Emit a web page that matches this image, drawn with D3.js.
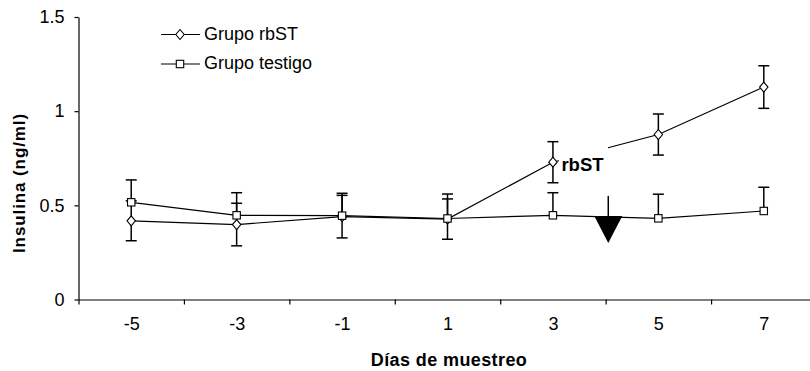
<!DOCTYPE html>
<html>
<head>
<meta charset="utf-8">
<script src="https://cdn.jsdelivr.net/npm/d3@7"></script>
<style>
  html, body { margin: 0; padding: 0; background: #fff; }
  svg { display: block; }
  text { font-family: "Liberation Sans", Arial, sans-serif; fill: #000; }
</style>
</head>
<body>
<svg id="chart" width="810" height="371"></svg>
<script>
// ---- data ----
const days = [-5, -3, -1, 1, 3, 5, 7];
const dayLabels = ["-5", "-3", "-1", "1", "3", "5", "7"];
const rbstMean = [0.418, 0.398, 0.44, 0.427, 0.729, 0.876, 1.128];
const rbstErr  = [0.106, 0.113, 0.113, 0.107, 0.109, 0.109, 0.113];
const testigoMean = [0.516, 0.447, 0.445, 0.430, 0.447, 0.431, 0.470];
const testigoErr  = [0.119, 0.120, 0.119, 0.130, 0.120, 0.128, 0.126];
const yTicks = [0, 0.5, 1, 1.5];
const yTickLabels = ["0", "0.5", "1", "1.5"];
const seriesNames = ["Grupo rbST", "Grupo testigo"];
const annotationText = "rbST";
const arrowDay = 4.05, arrowTop = 0.55, arrowBase = 0.443, arrowTip = 0.30;

// ---- layout ----
const svg = d3.select("#chart");
const mLeft = 78.5, mRight = 816.5, mTop = 17, mBottom = 299.5;
const x = d3.scaleLinear().domain([-6, 8]).range([mLeft, mRight]);
const y = d3.scaleLinear().domain([0, 1.5]).range([mBottom, mTop]);

// axes
const gx = svg.append("g").attr("transform", `translate(0,${mBottom})`)
  .call(d3.axisBottom(x).tickValues([-6, -4, -2, 0, 2, 4, 6]).tickFormat("").tickSize(5).tickSizeOuter(0));
gx.selectAll("path,line").attr("stroke", "#000").attr("stroke-width", 1.2);

const gxl = svg.append("g").attr("transform", `translate(0,${mBottom})`)
  .call(d3.axisBottom(x).tickValues(days).tickFormat((d, i) => dayLabels[i]).tickSize(0).tickPadding(18));
gxl.select(".domain").remove();
gxl.selectAll("text").attr("font-size", 18).attr("font-family", "Liberation Sans, Arial, sans-serif");

const gy = svg.append("g").attr("transform", `translate(${mLeft},0)`)
  .call(d3.axisLeft(y).tickValues(yTicks).tickFormat((d, i) => yTickLabels[i]).tickSize(4).tickSizeOuter(0).tickPadding(10));
gy.selectAll("path,line").attr("stroke", "#000").attr("stroke-width", 1.2);
gy.selectAll("text").attr("font-size", 18).attr("font-family", "Liberation Sans, Arial, sans-serif");

// axis titles
svg.append("text")
  .attr("x", 449).attr("y", 366)
  .attr("text-anchor", "middle")
  .attr("font-size", 18).attr("font-weight", "bold")
  .attr("letter-spacing", 0.4)
  .text("Días de muestreo");

svg.append("text")
  .attr("transform", "translate(25,183) rotate(-90)")
  .attr("text-anchor", "middle")
  .attr("font-size", 17).attr("font-weight", "bold")
  .attr("letter-spacing", 0.9)
  .text("Insulina (ng/ml)");

// helpers
const line = d3.line().x(d => x(d[0])).y(d => y(d[1]));
function diamond(g, cx, cy) {
  g.append("path")
    .attr("d", `M${cx},${cy - 5}L${cx + 4.2},${cy}L${cx},${cy + 5}L${cx - 4.2},${cy}Z`)
    .attr("fill", "#fff").attr("stroke", "#000").attr("stroke-width", 1.1);
}
function square(g, cx, cy) {
  g.append("rect")
    .attr("x", cx - 3.7).attr("y", cy - 3.7).attr("width", 7.4).attr("height", 7.4)
    .attr("fill", "#fff").attr("stroke", "#000").attr("stroke-width", 1.1);
}
function errBar(g, cx, v0, v1) {
  g.append("line").attr("x1", cx).attr("x2", cx).attr("y1", y(v0)).attr("y2", y(v1))
    .attr("stroke", "#000").attr("stroke-width", 1.5);
  g.append("line").attr("x1", cx - 5.5).attr("x2", cx + 5.5).attr("y1", y(v1)).attr("y2", y(v1))
    .attr("stroke", "#000").attr("stroke-width", 1.5);
}

const plot = svg.append("g");
const rbstPts = days.map((d, i) => [d, rbstMean[i]]);
const testPts = days.map((d, i) => [d, testigoMean[i]]);

// error bars
days.forEach((d, i) => {
  errBar(plot, x(d), rbstMean[i], rbstMean[i] + rbstErr[i]);
  errBar(plot, x(d), rbstMean[i], rbstMean[i] - rbstErr[i]);
  errBar(plot, x(d), testigoMean[i], testigoMean[i] + testigoErr[i]);
});

// lines
plot.append("path").datum(rbstPts).attr("d", line).attr("fill", "none").attr("stroke", "#000").attr("stroke-width", 1.2);
plot.append("path").datum(testPts).attr("d", line).attr("fill", "none").attr("stroke", "#000").attr("stroke-width", 1.2);

// markers
rbstPts.forEach(p => diamond(plot, x(p[0]), y(p[1])));
testPts.forEach(p => square(plot, x(p[0]), y(p[1])));

// annotation label with white box
const ax = x(days[4]) + 8.5, ay = y(rbstMean[4]) + 8.5;
svg.append("rect").attr("x", ax - 2.5).attr("y", ay - 27).attr("width", 49).attr("height", 33).attr("fill", "#fff");
svg.append("text").attr("x", ax).attr("y", ay)
  .attr("font-family", "Open Sans, sans-serif").attr("font-weight", "bold").attr("font-size", 18.5)
  .text(annotationText);

// arrow
const axx = x(arrowDay);
svg.append("line").attr("x1", axx).attr("x2", axx).attr("y1", y(arrowTop)).attr("y2", y(arrowBase))
  .attr("stroke", "#000").attr("stroke-width", 1.5);
svg.append("path")
  .attr("d", `M${axx - 14},${y(arrowBase)}L${axx + 14},${y(arrowBase)}L${axx},${y(arrowTip)}Z`)
  .attr("fill", "#000");

// legend
const legY = [34.5, 64];
const leg = svg.append("g");
seriesNames.forEach((name, i) => {
  leg.append("line").attr("x1", 161).attr("x2", 200).attr("y1", legY[i]).attr("y2", legY[i])
    .attr("stroke", "#000").attr("stroke-width", 1.2);
  if (i === 0) diamond(leg, 180, legY[i]); else square(leg, 180, legY[i]);
  leg.append("text").attr("x", 204).attr("y", legY[i] + 5).attr("font-size", 18).text(name);
});
</script>
</body>
</html>
